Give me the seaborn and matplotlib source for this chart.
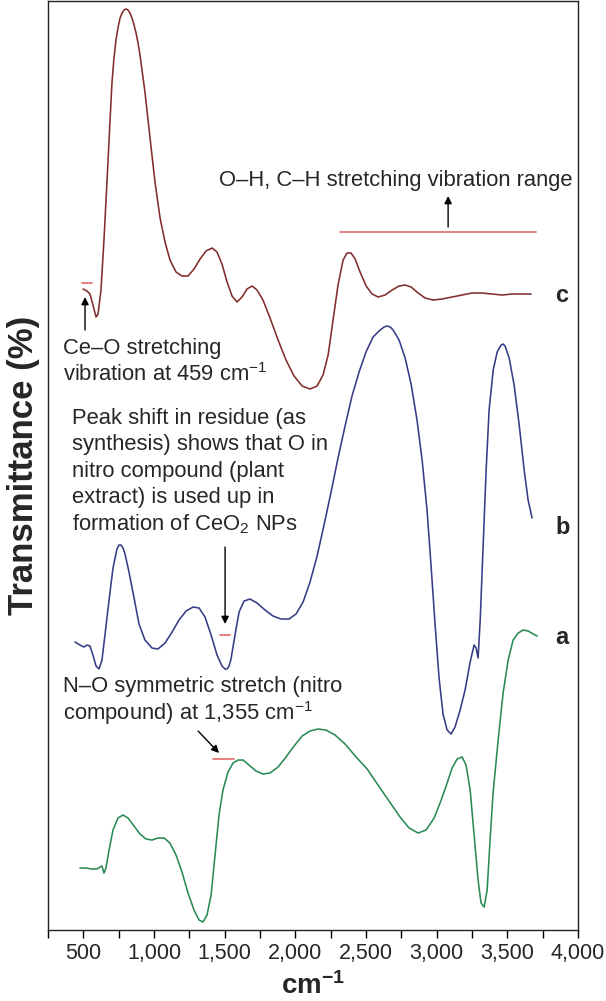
import matplotlib
matplotlib.use("Agg")
import matplotlib.pyplot as plt
import matplotlib.ticker as mticker
import pandas as pd
import seaborn as sns

# FTIR spectra (wavenumber in cm-1, transmittance in arbitrary offset units)
wn_c = [498, 526, 547, 568, 590, 604, 625, 646, 660, 675, 689, 703, 717, 731, 745, 760,
        774, 788, 802, 816, 830, 844, 859, 873, 887, 901, 936, 972, 1007, 1043, 1078,
        1113, 1156, 1198, 1241, 1283, 1326, 1368, 1411, 1446, 1481, 1517, 1552, 1587,
        1623, 1658, 1694, 1729, 1771, 1821, 1878, 1934, 1991, 2048, 2104, 2154, 2196,
        2232, 2267, 2302, 2338, 2366, 2394, 2423, 2458, 2501, 2543, 2586, 2635, 2685,
        2734, 2777, 2819, 2869, 2918, 2975, 3038, 3109, 3180, 3251, 3321, 3392, 3463,
        3534, 3604, 3668]
tr_c = [641, 639, 636, 625, 613, 616, 640, 690, 728, 770, 810, 848, 872, 890, 902, 912,
        917, 920, 921, 920, 917, 912, 905, 897, 887, 875, 838, 792, 748, 712, 688,
        670, 658, 654, 654, 661, 671, 679, 682, 678, 666, 648, 634, 628,
        633, 641, 644, 640, 630, 612, 590, 570, 554, 544, 541, 544, 555,
        575, 610, 645, 670, 677, 677, 671, 658, 644, 636, 633, 635, 640,
        644, 645, 643, 637, 632, 630, 631, 633, 635, 637, 637, 636, 635,
        636, 636, 636]

wn_b = [441, 476, 505, 526, 547, 568, 590, 611, 632, 653, 682, 710, 738, 753, 767, 781,
        795, 823, 859, 894, 936, 986, 1028, 1078, 1128, 1177, 1227, 1276, 1319, 1361,
        1404, 1446, 1481, 1503, 1517, 1531, 1545, 1573, 1602, 1637, 1679, 1729, 1786,
        1842, 1899, 1955, 2005, 2055, 2104, 2154, 2203, 2253, 2302, 2352, 2401, 2451,
        2500, 2550, 2600, 2628, 2649, 2671, 2692, 2734, 2777, 2819, 2861, 2897, 2932,
        2960, 2989, 3017, 3045, 3074, 3102, 3130, 3166, 3201, 3237, 3265, 3279, 3293,
        3308, 3329, 3350, 3371, 3400, 3428, 3456, 3470, 3484, 3513, 3548, 3584, 3619,
        3647, 3675]
tr_b = [288, 285, 283, 285, 284, 275, 264, 261, 270, 295, 330, 362, 381, 385, 385, 382,
        376, 358, 332, 306, 290, 282, 281, 287, 298, 310, 319, 323, 322, 313,
        295, 275, 264, 261, 261, 264, 271, 295, 318, 329, 331, 327, 320,
        314, 311, 311, 316, 328, 348, 374, 405, 438, 472, 504, 534, 558,
        578, 593, 600, 603, 604, 603, 600, 590, 572, 546, 510, 470, 420,
        365, 305, 252, 216, 200, 196, 203, 220, 240, 268, 285, 282, 272,
        310, 385, 460, 520, 560, 578, 585, 586, 584, 572, 545, 505, 460,
        430, 412]

wn_a = [476, 519, 561, 597, 618, 632, 646, 660, 682, 710, 745, 781, 816, 859, 901, 944,
        986, 1028, 1071, 1113, 1156, 1198, 1241, 1283, 1319, 1347, 1375, 1404, 1432,
        1460, 1488, 1524, 1559, 1595, 1630, 1672, 1722, 1771, 1821, 1878, 1934, 1991,
        2048, 2104, 2161, 2217, 2281, 2352, 2430, 2508, 2585, 2663, 2741, 2805, 2869,
        2925, 2982, 3024, 3067, 3109, 3145, 3180, 3208, 3237, 3265, 3293, 3314, 3336,
        3357, 3378, 3399, 3435, 3470, 3506, 3541, 3577, 3612, 3647, 3683, 3711]
tr_a = [62, 62, 61, 61, 63, 64, 57, 62, 80, 100, 112, 115, 112, 104, 96, 91,
        90, 92, 92, 87, 75, 58, 37, 20, 10, 8, 15, 35, 75,
        115, 140, 158, 167, 170, 170, 165, 159, 156, 157, 163, 173, 184,
        194, 199, 201, 200, 195, 186, 173, 161, 145, 129, 113, 102, 97,
        100, 112, 127, 144, 162, 171, 173, 165, 140, 95, 50, 27, 23,
        40, 90, 137, 190, 237, 270, 290, 297, 300, 299, 296, 294]

spectra = pd.concat([
    pd.DataFrame({"wn": wn_a, "T": tr_a, "sample": "a"}),
    pd.DataFrame({"wn": wn_b, "T": tr_b, "sample": "b"}),
    pd.DataFrame({"wn": wn_c, "T": tr_c, "sample": "c"}),
])
colors = {"a": "#2a8a55", "b": "#363c86", "c": "#822c2c"}

sns.set_style("ticks")
plt.rcParams["font.family"] = ["Liberation Sans", "DejaVu Sans"]
plt.rcParams["mathtext.fontset"] = "custom"
plt.rcParams["mathtext.rm"] = "Liberation Sans"
plt.rcParams["mathtext.it"] = "Liberation Sans:italic"
plt.rcParams["mathtext.bf"] = "Liberation Sans:bold"

fig = plt.figure(figsize=(6.06, 10.01), dpi=100)
ax = fig.add_axes([0.0792, 0.0709, 0.8746, 0.9281])

sns.lineplot(data=spectra, x="wn", y="T", hue="sample", palette=colors,
             estimator=None, sort=False, lw=1.15, legend=False, ax=ax)

ax.set_xlim(250, 4000)
ax.set_ylim(0, 929)
ax.xaxis.set_major_locator(mticker.MultipleLocator(500))
ax.xaxis.set_minor_locator(mticker.FixedLocator([250, 750, 1250, 1750, 2250, 2750, 3250, 3750]))
ax.xaxis.set_major_formatter(mticker.FuncFormatter(lambda v, p: f"{int(v):,}"))
ax.set_yticks([])
ax.tick_params(axis="x", which="both", direction="out", length=6, width=1, color="black")
ax.tick_params(axis="x", which="major", labelsize=15.5, pad=3)
for s in ax.spines.values():
    s.set_visible(True)
    s.set_color("#222222")
    s.set_linewidth(1)

ax.set_xlabel(r"cm$^{\mathbf{-1}}$", fontsize=20, fontweight="bold", labelpad=6)
ax.set_ylabel("Transmittance (%)", fontsize=25, fontweight="bold", labelpad=6)

fs = 15.8
red = "#e06a6a"
arrow = dict(arrowstyle="-|>", color="black", lw=1, mutation_scale=11, shrinkA=0, shrinkB=0)

# Ce-O annotation
ax.plot([490, 561], [647, 647], color=red, lw=1.2)
ax.annotate("", xy=(512, 633), xytext=(512, 600), arrowprops=arrow)
ax.text(356, 582, "Ce\u2013O stretching", fontsize=fs, va="center")
ax.text(356, 555, r"vibration at 459 cm$^{-1}$", fontsize=fs, va="center")

# peak shift annotation
lines = ["Peak shift in residue (as", "synthesis) shows that O in",
         "nitro compound (plant", "extract) is used up in", r"formation of CeO$_2$ NPs"]
for i, t in enumerate(lines):
    ax.text(420, 512 - i * 26.5, t, fontsize=fs, va="center")
ax.annotate("", xy=(1503, 306), xytext=(1503, 383), arrowprops=arrow)
ax.plot([1467, 1538], [295, 295], color=red, lw=1.2)

# N-O annotation
ax.text(356, 244, "N\u2013O symmetric stretch (nitro", fontsize=fs, va="center")
ax.text(356, 217, r"compound) at 1,355 cm$^{-1}$", fontsize=fs, va="center")
ax.annotate("", xy=(1460, 177), xytext=(1312, 199), arrowprops=arrow)
ax.plot([1418, 1566], [171, 171], color=red, lw=1.2)

# O-H, C-H annotation
ax.text(3958, 750, "O\u2013H, C\u2013H stretching vibration range", fontsize=fs, va="center", ha="right")
ax.annotate("", xy=(3081, 734), xytext=(3081, 703), arrowprops=arrow)
ax.plot([2316, 3703], [698, 698], color=red, lw=1.2)

# curve labels
for lab, yy in [("c", 635), ("b", 403), ("a", 293)]:
    ax.text(3838, yy, lab, fontsize=17, fontweight="bold", va="center")

fig.savefig("out.png", dpi=100)
